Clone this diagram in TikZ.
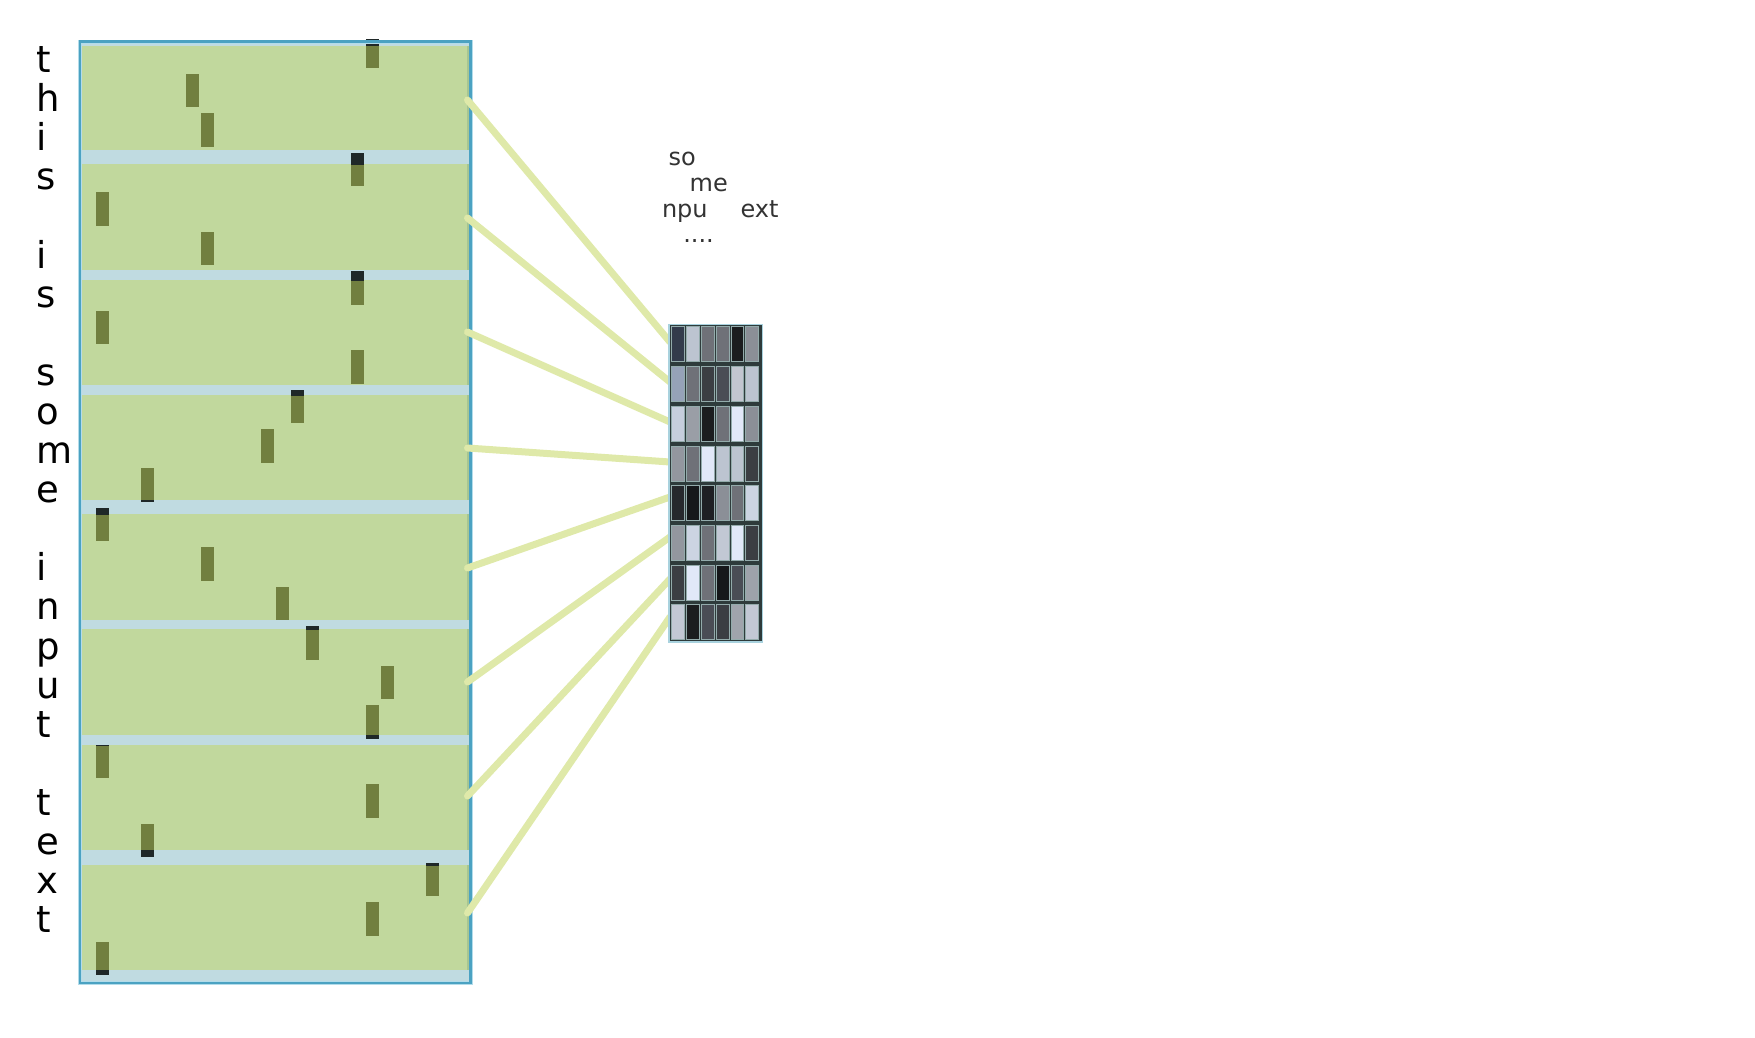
\documentclass[tikz,border=0pt]{standalone}
\usepackage{fontspec}
\setmainfont{DejaVu Sans}
\definecolor{panelgreen}{HTML}{C1D89D}
\definecolor{bandblue}{HTML}{C0DBE1}
\definecolor{bordteal}{HTML}{4BA2C2}
\definecolor{bordhalo}{HTML}{B3DCEA}
\definecolor{edgegreen}{HTML}{A6C592}
\definecolor{barolive}{HTML}{717F3F}
\definecolor{bardark}{HTML}{1F2828}
\definecolor{linkgreen}{HTML}{DFE9A9}
\definecolor{griddark}{HTML}{2E3B3B}
\definecolor{cellrim}{HTML}{93ABAB}
\definecolor{matborder}{HTML}{A9D2DE}
\definecolor{tokgray}{HTML}{333333}
\newcommand\lblfont{\fontsize{37}{44}\selectfont}
\newcommand\tokfont{\fontsize{24}{29}\selectfont}
\begin{document}
\begin{tikzpicture}[x=1pt,y=-1pt,
  segbox/.style={fill=panelgreen, draw=none, inner sep=0pt, minimum width=387pt},
  lbl/.style={anchor=base west, inner sep=0pt, font=\lblfont, text=black},
  tok/.style={anchor=base west, inner sep=0pt, font=\tokfont, text=tokgray},
  link/.style={draw=linkgreen, line width=7pt, line cap=round}]
\useasboundingbox (0,0) rectangle (1755,1038);

% ---------- left panel ----------
\fill[bandblue] (80,41.7) rectangle (470.5,982.8);
\foreach \t/\b [count=\i] in {45.7/150,164/270,280/385,395/500,514/620,629/735,745/850,865/970}{
  \pgfmathsetmacro\h{\b-\t}
  \pgfmathsetmacro\m{(\b+\t)/2}
  \node[segbox, minimum height=\h pt] (seg\i) at (275.5,\m) {};
  \fill[edgegreen] (466.5,\t) rectangle (469.3,\b);
}
% bars
\def\barlist{0/19,1/7,2/8,3/18,4/1,5/8,6/18,7/1,8/18,9/14,10/12,11/4,12/1,13/8,14/13,15/15,16/20,17/19,18/1,19/19,20/4,21/23,22/19,23/1}
\begin{scope}
  \clip (80,41.7) rectangle (470.5,982.8);
  \foreach \r/\c in \barlist {
    \fill[barolive] ({81+15*\c},{34.5+39.45*\r}) rectangle ++(12.7,33.5);
  }
\end{scope}
% dark parts of the bars where they cross the blue bands
\foreach \t/\b in {40/45.7,150/164,270/280,385/395,500/514,620/629,735/745,850/865,970/983}{
  \begin{scope}
    \clip (80,\t) rectangle (470.5,\b);
    \foreach \r/\c in \barlist {
      \fill[bardark] ({81+15*\c},{34.5+39.45*\r}) rectangle ++(12.7,33.5);
    }
  \end{scope}
}
\draw[bordhalo, line width=4pt] (80,41.7) rectangle (470.5,982.8);
\draw[bordteal, line width=2.6pt] (80,41.7) rectangle (470.5,982.8);

% ---------- letters ----------
\foreach \k/\ch in {0/t,1/h,2/i,3/s,5/i,6/s,8/s,9/o,10/m,11/e,13/i,14/n,15/p,16/u,17/t,19/t,20/e,21/x,22/t}{
  \node[lbl] (l\k) at (36.5,{72.5+39.1*\k}) {\ch};
}

% ---------- connectors ----------
\foreach \ys/\ye [count=\i] in {100/342,218/382,332/422,448/462,568/497,682/537,796/579,913/617}{
  \coordinate (src\i) at (467.5,\ys);
  \coordinate (dst\i) at (670,\ye);
  \draw[link] (src\i) -- (dst\i);
}

% ---------- matrix ----------
\fill[griddark] (669.5,324.8) rectangle (761.7,641.5);
\foreach \row [count=\k from 0] in {
  {333B4B,BCC4D0,6F7178,6F7178,1B1D1F,8B8F97},
  {96A2B8,6F7178,3B3E43,4A4D55,C2C6D0,BCC4D0},
  {C6CEDC,9A9EA6,1B1D1F,6F7178,E1E8F8,8B8F97},
  {93979F,6F7178,E1E8F8,BCC4D0,BCC4D0,3B3E43},
  {26282C,16181A,1E2023,8B8F97,6F7178,CCD4E2},
  {93979F,CCD4E2,6F7178,C2C8D4,E1E8F8,3B3E43},
  {3B3E43,E1E8F8,6F7178,16181A,4A4D55,9EA2AA},
  {C2C8D4,1B1D1F,4A4D55,3B3E43,A0A4AC,C2C8D4}}{
  \foreach \col [count=\j from 0] in \row {
    \edef\tmpdef{\noexpand\definecolor{cellc}{HTML}{\col}}\tmpdef
    \filldraw[fill=cellc, draw=cellrim, line width=0.9pt]
      ({671.6+14.85*\j},{326.9+39.7*\k}) rectangle ++(12.9,35);
  }
}
\draw[matborder, line width=1.6pt] (668.8,324.3) rectangle (762.3,642);

% ---------- token texts ----------
\node[tok] (tk1) at (668.5,165) {so};
\node[tok] (tk2) at (689.5,191.5) {me};
\node[tok] (tk3) at (661.8,217) {npu};
\node[tok] (tk4) at (740.4,217) {ext};
\node[tok] (tk5) at (683.1,242) {....};
\end{tikzpicture}
\end{document}
